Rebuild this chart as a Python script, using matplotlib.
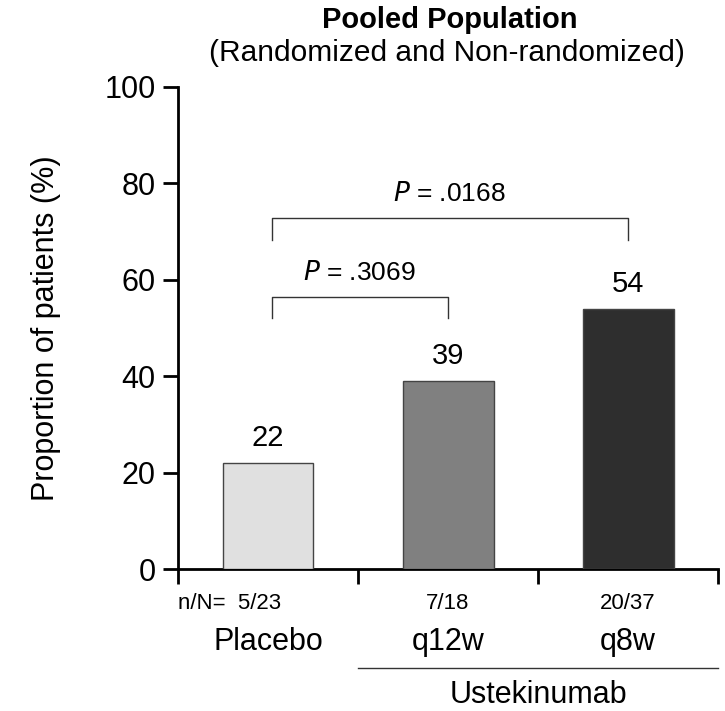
import matplotlib.pyplot as plt

# Proportion of patients per arm
groups = ["Placebo", "q12w", "q8w"]
percent = [22, 39, 54]
counts = ["5/23", "7/18", "20/37"]
bar_colors = ["#e0e0e0", "#808080", "#2e2e2e"]

# p-value comparisons vs placebo: (from, to, label, bracket height)
comparisons = [(0, 1, ".3069", 56.5), (0, 2, ".0168", 72.8)]

plt.rcParams['font.family'] = ['Liberation Sans', 'DejaVu Sans']

fig = plt.figure(figsize=(7.25, 7.11), dpi=100)
ax = fig.add_axes([0.2455, 0.1997, 0.745, 0.678])

x = [i + 0.5 for i in range(len(groups))]
ax.bar(x, percent, width=0.505, color=bar_colors, edgecolor="#444444", linewidth=1.0, zorder=3)

for xi, v in zip(x, percent):
    ax.annotate(str(v), (xi, v), xytext=(0, 18), textcoords="offset points",
                ha="center", va="center", fontsize=21)

# significance brackets
for a, b, p, h in comparisons:
    xa, xb = x[a] + 0.02, x[b]
    ax.plot([xa, xa, xb, xb], [h - 4.5, h, h, h - 4.5], color="#333333", lw=1.0, clip_on=False)
    ax.text((xa + xb) / 2, h + 5, "$\\it{P}$ = " + p, ha="center", va="center",
            fontsize=19)

ax.set_xlim(0, 3)
ax.set_ylim(0, 100)
ax.set_yticks([0, 20, 40, 60, 80, 100])
ax.tick_params(axis="y", labelsize=22, length=11, width=2, direction="out", pad=5)
ax.set_xticks([0, 1, 2, 3])
ax.set_xticklabels([])
ax.tick_params(axis="x", length=11, width=2, direction="out")
for s in ["top", "right"]:
    ax.spines[s].set_visible(False)
for s in ["left", "bottom"]:
    ax.spines[s].set_linewidth(2)

ax.set_ylabel("Proportion of patients (%)", fontsize=22, labelpad=31)

# counts and arm labels below the axis
trans = ax.get_xaxis_transform()
ax.text(0.0, -0.071, "n/N=  " + counts[0], transform=trans, ha="left", va="center", fontsize=16)
for xi, c in zip(x[1:], counts[1:]):
    ax.text(xi, -0.071, c, transform=trans, ha="center", va="center", fontsize=16)
for xi, g in zip(x, groups):
    ax.text(xi, -0.152, g, transform=trans, ha="center", va="center", fontsize=22)
ax.plot([1.0, 3.0], [-0.205, -0.205], transform=trans, color="#333333", lw=1.0, clip_on=False)
ax.text(2.0, -0.262, "Ustekinumab", transform=trans, ha="center", va="center", fontsize=22)

fig.text(0.62, 0.972, "Pooled Population", ha="center", va="center", fontsize=21, fontweight="bold")
fig.text(0.617, 0.926, "(Randomized and Non-randomized)", ha="center", va="center", fontsize=21.5)

fig.savefig("out.png", dpi=100)
